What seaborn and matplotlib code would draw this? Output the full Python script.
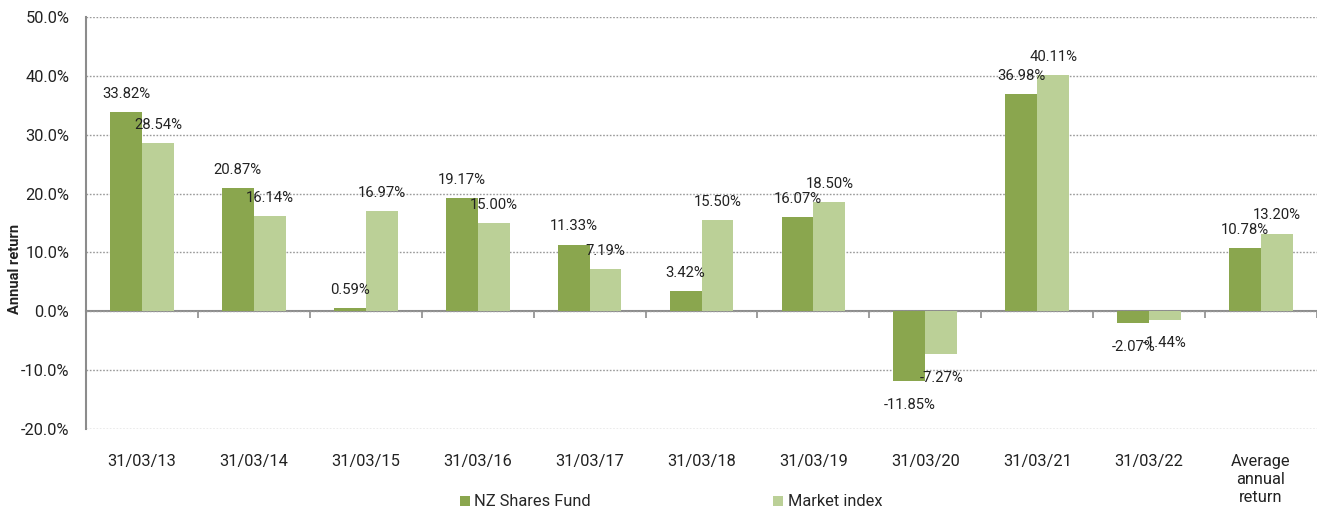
import matplotlib
matplotlib.use("Agg")
import matplotlib.pyplot as plt
import seaborn as sns
import pandas as pd
from matplotlib.ticker import FuncFormatter, FixedLocator

categories = ["31/03/13", "31/03/14", "31/03/15", "31/03/16", "31/03/17", "31/03/18",
              "31/03/19", "31/03/20", "31/03/21", "31/03/22", "Average\nannual\nreturn"]
fund_values = [33.82, 20.87, 0.59, 19.17, 11.33, 3.42, 16.07, -11.85, 36.98, -2.07, 10.78]
index_values = [28.54, 16.14, 16.97, 15.00, 7.19, 15.50, 18.50, -7.27, 40.11, -1.44, 13.20]
series_names = ["NZ Shares Fund", "Market index"]
colors = ["#8AA64E", "#BBD097"]

df = pd.DataFrame({
    "category": categories * 2,
    "value": fund_values + index_values,
    "series": [series_names[0]] * len(categories) + [series_names[1]] * len(categories),
})

sns.set_style("white")
plt.rcParams["font.family"] = ["Roboto", "DejaVu Sans"]

fig = plt.figure(figsize=(13.17, 5.14), dpi=100)
ax = fig.add_axes([86 / 1317, 1 - 429 / 514, 1 - 86 / 1317, (429 - 17) / 514])

sns.barplot(data=df, x="category", y="value", hue="series", order=categories,
            hue_order=series_names, palette=colors, saturation=1, width=0.57,
            ax=ax, legend=True, errorbar=None, linewidth=0)

ax.set_ylim(-20, 50)
ax.set_xlim(-0.5, len(categories) - 0.5)
ax.yaxis.set_major_locator(FixedLocator(list(range(-20, 51, 10))))
ax.yaxis.set_major_formatter(FuncFormatter(lambda v, p: f"{v:.1f}%"))
ax.grid(axis="y", color="#9a9a9a", linestyle=(0, (1.2, 1.2)), linewidth=1.0)
ax.set_axisbelow(True)

for s in ["top", "right", "bottom"]:
    ax.spines[s].set_visible(False)
ax.spines["left"].set_color("#8c8c8c")
ax.spines["left"].set_linewidth(1.5)

ax.tick_params(axis="y", direction="out", length=4, width=1.2, color="#8c8c8c",
               labelsize=11.8, pad=8, labelcolor="#222222")
ax.tick_params(axis="x", length=0, labelsize=11.8, pad=18, labelcolor="#222222")
for lbl in ax.get_xticklabels():
    lbl.set_linespacing(1.25)
ax.set_xlabel("")

# zero axis line with category-boundary ticks
sec = ax.secondary_xaxis(20 / 70)
sec.set_xticks([i - 0.5 for i in range(len(categories) + 1)])
sec.set_xticklabels([])
sec.tick_params(axis="x", direction="out", length=5, width=1.2, color="#8c8c8c")
sec.spines["bottom"].set_color("#8c8c8c")
sec.spines["bottom"].set_linewidth(1.5)

ax.set_ylabel("Annual return", fontsize=10.5, fontweight="bold", color="#222222")
ax.yaxis.set_label_coords(-64 / 1231, (429 - 269) / 412)

for cont in ax.containers:
    pos_labels = [f"{b.get_height():.2f}%" if b.get_height() >= 0 else "" for b in cont]
    neg_labels = [f"{b.get_height():.2f}%" if b.get_height() < 0 else "" for b in cont]
    ax.bar_label(cont, labels=pos_labels, padding=8, fontsize=10.7, color="#222222")
    ax.bar_label(cont, labels=neg_labels, padding=12, fontsize=10.7, color="#222222")

handles, labels = ax.get_legend_handles_labels()
ax.get_legend().remove()
fig.legend(handles, labels, loc="center", bbox_to_anchor=(671 / 1317, 1 - 502 / 514),
           ncol=2, frameon=False, fontsize=11.8, handlelength=0.6, handleheight=0.6,
           handletextpad=0.3, columnspacing=11.1, borderaxespad=0)

fig.savefig("out.png", dpi=100)
